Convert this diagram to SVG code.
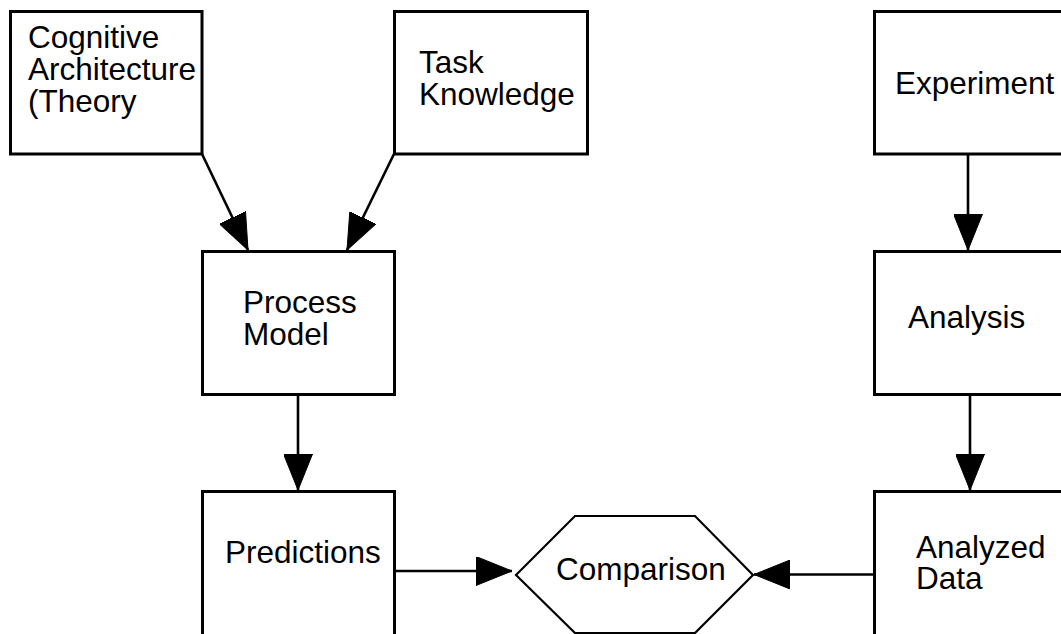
<svg xmlns="http://www.w3.org/2000/svg" width="1061" height="634" viewBox="0 0 1061 634">
  <style>
    .box { fill: #fff; stroke: #000; stroke-width: 3; }
    .hex { fill: #fff; stroke: #000; stroke-width: 2.2; }
    .lbl { font-family: "Liberation Sans", Arial, Helvetica, sans-serif; font-size: 31.5px; fill: #000; }
    .edge { fill: none; stroke: #000; stroke-width: 2.6; marker-end: url(#ah); }
  </style>
  <defs>
    <marker id="ah" viewBox="0 0 36 29" refX="36" refY="14.5" markerWidth="36" markerHeight="29" markerUnits="userSpaceOnUse" orient="auto">
      <path d="M0,0 L36,14.5 L0,29 Z" fill="#000" stroke="#000" stroke-width="1"/>
    </marker>
  </defs>
  <rect width="1061" height="634" fill="#fff"/>

  <g id="node-cognitive">
    <rect class="box" x="10.5" y="11.5" width="191.5" height="142.5"/>
    <text class="lbl" x="28" y="48">Cognitive</text>
    <text class="lbl" x="28" y="80">Architecture</text>
    <text class="lbl" x="28" y="112">(Theory</text>
  </g>

  <g id="node-task">
    <rect class="box" x="394.5" y="11.5" width="193" height="142.5"/>
    <text class="lbl" x="419" y="72.5">Task</text>
    <text class="lbl" x="419" y="104.5">Knowledge</text>
  </g>

  <g id="node-experiment">
    <rect class="box" x="874.5" y="11.5" width="200" height="142.5"/>
    <text class="lbl" x="895" y="94">Experiment</text>
  </g>

  <g id="node-process">
    <rect class="box" x="202.5" y="251.5" width="192" height="143"/>
    <text class="lbl" x="243" y="312.5">Process</text>
    <text class="lbl" x="243" y="345">Model</text>
  </g>

  <g id="node-analysis">
    <rect class="box" x="874.5" y="251.5" width="200" height="143"/>
    <text class="lbl" x="908" y="328">Analysis</text>
  </g>

  <g id="node-predictions">
    <rect class="box" x="202.5" y="491.5" width="192" height="200"/>
    <text class="lbl" x="225" y="563">Predictions</text>
  </g>

  <g id="node-analyzed">
    <rect class="box" x="874.5" y="491.5" width="200" height="200"/>
    <text class="lbl" x="916" y="557.5">Analyzed</text>
    <text class="lbl" x="916" y="589">Data</text>
  </g>

  <g id="node-comparison">
    <polygon class="hex" points="516,575 575,516 695,516 753,575 695,633 575,633"/>
    <text class="lbl" x="556" y="580">Comparison</text>
  </g>

  <g id="connectors">
    <line class="edge" x1="202" y1="154" x2="248" y2="250"/>
    <line class="edge" x1="394" y1="154" x2="347" y2="250"/>
    <line class="edge" x1="298" y1="395" x2="298" y2="490"/>
    <line class="edge" x1="968" y1="154" x2="968" y2="250"/>
    <line class="edge" x1="970" y1="395" x2="970" y2="490"/>
    <line class="edge" x1="394" y1="571" x2="512" y2="571"/>
    <line class="edge" x1="874" y1="574.5" x2="754" y2="574.5"/>
  </g>
</svg>
